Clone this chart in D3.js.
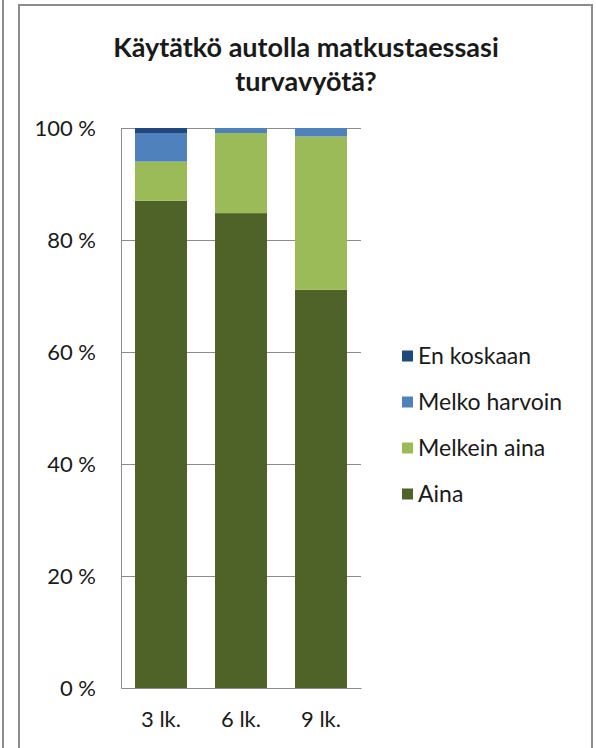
<!DOCTYPE html>
<html>
<head>
<meta charset="utf-8">
<script src="https://cdn.jsdelivr.net/npm/d3@7"></script>
<style>
  body { margin: 0; background: #fff; }
  text { font-family: Lato, "Open Sans", sans-serif; fill: #1a1a1a; }
</style>
</head>
<body>
<svg id="chart" width="596" height="748"></svg>
<script>
// Data
const categories = ["3 lk.", "6 lk.", "9 lk."];
const seriesNames = ["Aina", "Melkein aina", "Melko harvoin", "En koskaan"];
const aina = [87.0, 84.8, 71.1];
const melkeinAina = [7.0, 14.3, 27.4];
const melkoHarvoin = [5.1, 0.9, 1.5];
const enKoskaan = [0.9, 0, 0];
const yTicks = [0, 20, 40, 60, 80, 100];
const colors = ["#4F6228", "#9BBB59", "#4F81BD", "#1F497D"];

const svg = d3.select("#chart");

// frames (neighbouring chart edge + this chart's border)
svg.append("line").attr("x1", 3).attr("x2", 3).attr("y1", 0).attr("y2", 748)
  .attr("stroke", "#8c8c8c").attr("stroke-width", 2);
svg.append("rect").attr("x", 19).attr("y", 5).attr("width", 573).attr("height", 760)
  .attr("fill", "none").attr("stroke", "#8c8c8c").attr("stroke-width", 2);

// title
const title = svg.append("text").attr("text-anchor", "middle")
  .style("font-weight", "bold").style("font-size", "27px");
title.append("tspan").attr("x", 306).attr("y", 57).text("Käytätkö autolla matkustaessasi");
title.append("tspan").attr("x", 306).attr("y", 91).text("turvavyötä?");

const margin = { left: 121, right: 361, top: 128, bottom: 688 };

const x = d3.scaleBand().domain(categories)
  .range([margin.left, margin.right]).paddingInner(0.35).paddingOuter(0.175);
const y = d3.scaleLinear().domain([0, 100]).range([margin.bottom, margin.top]);

const rows = categories.map((c, i) => ({
  cat: c,
  "Aina": aina[i],
  "Melkein aina": melkeinAina[i],
  "Melko harvoin": melkoHarvoin[i],
  "En koskaan": enKoskaan[i]
}));
const stacked = d3.stack().keys(seriesNames)(rows);

// gridlines
svg.append("g").selectAll("line").data(yTicks.filter(t => t > 0)).join("line")
  .attr("x1", margin.left).attr("x2", margin.right)
  .attr("y1", d => Math.round(y(d)) + 0.5).attr("y2", d => Math.round(y(d)) + 0.5)
  .attr("stroke", "#8c8c8c").attr("stroke-width", 1);

// bars
svg.append("g").selectAll("g").data(stacked).join("g")
  .attr("fill", (d, i) => colors[i])
  .selectAll("rect").data(d => d).join("rect")
  .attr("x", d => x(d.data.cat))
  .attr("width", x.bandwidth())
  .attr("y", d => y(d[1]))
  .attr("height", d => y(d[0]) - y(d[1]));

// axes
const yAxis = svg.append("g").attr("transform", `translate(${margin.left},0)`)
  .call(d3.axisLeft(y).tickValues(yTicks).tickSize(0).tickPadding(25).tickFormat(d => d + " %"));
yAxis.select(".domain").attr("stroke", "#8c8c8c");
yAxis.selectAll("text").style("font-size", "22px").attr("fill", "#1a1a1a");

const xAxis = svg.append("g").attr("transform", `translate(0,${margin.bottom})`)
  .call(d3.axisBottom(x).tickSize(0).tickPadding(23));
xAxis.select(".domain").attr("stroke", "#8c8c8c");
xAxis.selectAll("text").style("font-size", "22px").attr("fill", "#1a1a1a");

// legend
const legendOrder = ["En koskaan", "Melko harvoin", "Melkein aina", "Aina"];
const legend = svg.append("g").selectAll("g").data(legendOrder).join("g")
  .attr("transform", (d, i) => `translate(402,${356 + i * 46})`);
legend.append("rect").attr("width", 11).attr("height", 11).attr("y", -5.5)
  .attr("fill", d => colors[seriesNames.indexOf(d)]);
legend.append("text").attr("x", 16).attr("dy", "0.35em")
  .style("font-size", "23px").text(d => d);
</script>
</body>
</html>
